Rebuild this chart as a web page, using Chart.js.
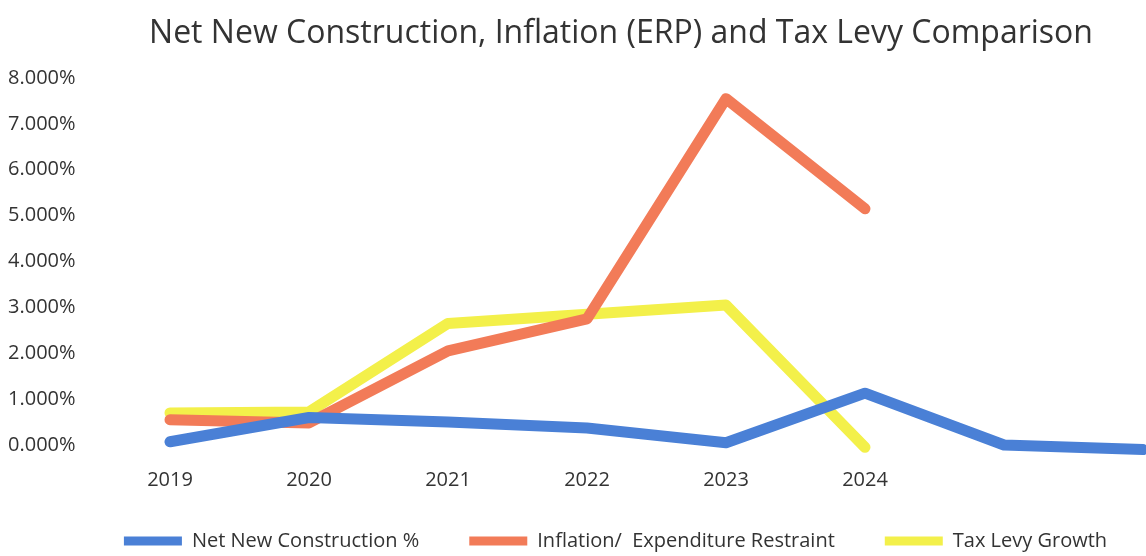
<!DOCTYPE html>
<html>
<head>
<meta charset="utf-8">
<script src="https://cdn.jsdelivr.net/npm/chart.js@4/dist/chart.umd.min.js"></script>
<style>
  html, body { margin: 0; padding: 0; background: #fff; }
  #wrap { width: 1146px; height: 556px; }
</style>
</head>
<body>
<div id="wrap"><canvas id="lineChart"></canvas></div>
<script>
const years = ['2019', '2020', '2021', '2022', '2023', '2024', '', ''];
const netNewConstruction = [0.07, 0.6, 0.5, 0.37, 0.05, 1.13, 0.0, -0.1];
const inflationERP = [0.55, 0.48, 2.05, 2.75, 7.55, 5.15, null, null];
const taxLevyGrowth = [0.7, 0.72, 2.65, 2.85, 3.05, -0.05, null, null];
const titleText = 'Net New Construction, Inflation (ERP) and Tax Levy Comparison';

const fontFamily = '"Open Sans", "Liberation Sans", sans-serif';

// title drawn a bit right of canvas centre, like the scan
const titlePlugin = {
    id: 'scanTitle',
    afterDraw(chart) {
        const ctx = chart.ctx;
        ctx.save();
        ctx.font = '32px ' + fontFamily;
        ctx.fillStyle = '#333';
        ctx.textAlign = 'center';
        ctx.textBaseline = 'middle';
        ctx.fillText(titleText, 621, 34);
        ctx.restore();
    }
};

// legend uses a wide item gap, so its box is kept short in layout and moved after it
const legendNudge = {
    id: 'legendNudge',
    afterLayout(chart) {
        const lg = chart.legend;
        const pad = lg.options.labels.padding;
        lg.top = 531 - pad;
        lg.bottom = chart.height;
        lg.height = lg.bottom - lg.top;
        lg.left += 40;
        lg.right += 40;
    }
};

const lineDs = (label, data, color) => ({
    label: label,
    data: data,
    borderColor: color,
    backgroundColor: color,
    borderWidth: 11,
    borderCapStyle: 'round',
    borderJoinStyle: 'round',
    pointRadius: 0,
    tension: 0,
    clip: false
});

new Chart(document.getElementById('lineChart'), {
    type: 'line',
    data: {
        labels: years,
        datasets: [
            lineDs('Net New Construction %', netNewConstruction, '#4a80d6'),
            lineDs('Inflation/  Expenditure Restraint', inflationERP, '#f27b58'),
            lineDs('Tax Levy Growth', taxLevyGrowth, '#f3f04a')
        ]
    },
    options: {
        responsive: true,
        maintainAspectRatio: false,
        animation: false,
        layout: { autoPadding: false, padding: { top: 78, right: 3, left: 8, bottom: 0 } },
        plugins: {
            title: { display: false },
            tooltip: { enabled: false },
            legend: {
                position: 'bottom',
                maxHeight: 40,
                labels: {
                    boxWidth: 58,
                    boxHeight: 9,
                    padding: 50,
                    color: '#333',
                    font: { family: fontFamily, size: 20 },
                    generateLabels: (chart) =>
                        Chart.defaults.plugins.legend.labels.generateLabels(chart)
                            .map(item => ({ ...item, lineWidth: 0 }))
                }
            }
        },
        scales: {
            x: {
                grid: { display: false, drawTicks: true, tickLength: 21 },
                border: { display: false },
                ticks: {
                    color: '#333',
                    padding: 2,
                    maxRotation: 0,
                    autoSkip: false,
                    font: { family: fontFamily, size: 20 }
                },
                afterFit: (scale) => { scale.height = 71; }
            },
            y: {
                min: 0,
                max: 8,
                grid: { display: false, drawTicks: false },
                border: { display: false },
                ticks: {
                    stepSize: 1,
                    color: '#333',
                    padding: 8,
                    crossAlign: 'far',
                    font: { family: fontFamily, size: 20 },
                    callback: (v) => v.toFixed(3) + '%'
                },
                afterFit: (scale) => { scale.width = 162; }
            }
        }
    },
    plugins: [titlePlugin, legendNudge]
});
</script>
</body>
</html>
